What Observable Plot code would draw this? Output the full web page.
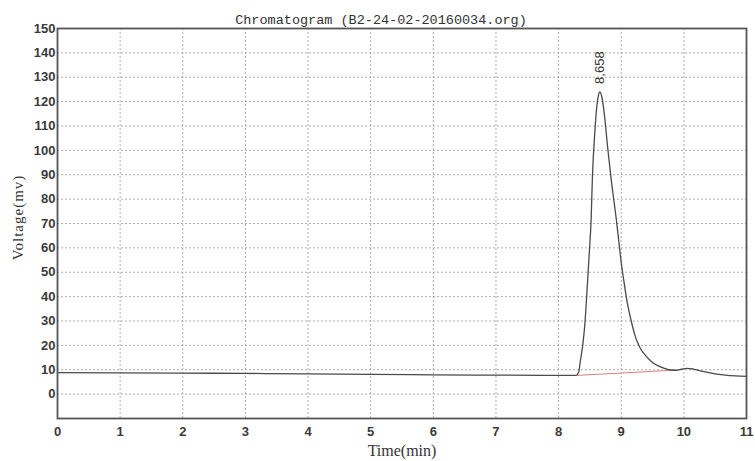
<!DOCTYPE html>
<html>
<head>
<meta charset="utf-8">
<script src="https://cdn.jsdelivr.net/npm/d3@7"></script>
<script src="https://cdn.jsdelivr.net/npm/@observablehq/plot@0.6"></script>
<style>
  html, body { margin: 0; padding: 0; background: #fff; }
</style>
</head>
<body>
<div id="chart"></div>
<script>
const titleText = "Chromatogram (B2-24-02-20160034.org)";
const xLabel = "Time(min)";
const yLabel = "Voltage(mv)";
const xTicks = [0,1,2,3,4,5,6,7,8,9,10,11];
const yTicks = [0,10,20,30,40,50,60,70,80,90,100,110,120,130,140,150];

const times = [0,1,2,3,4,5,6,7,8,8.28,8.32,8.35,8.39,8.42,8.46,8.49,8.52,8.54,8.58,8.61,8.64,8.658,8.69,8.72,8.75,8.78,8.81,8.84,8.88,8.92,8.96,9.00,9.05,9.10,9.16,9.22,9.30,9.40,9.50,9.60,9.70,9.80,9.88,9.96,10.05,10.15,10.3,10.5,10.7,10.9,11];
const volts = [8.8,8.7,8.6,8.5,8.3,8.1,7.9,7.8,7.7,7.7,9,14,21,29,45,58,72,89,108,118,123,124,122,117,110,102,95,88,80,72,63,54,45,37,30,24,19,15.5,13,11.5,10.5,9.9,9.8,10.2,10.6,10.3,9.3,8.3,7.7,7.4,7.3];

const baseTimes = [8.3, 9.84];
const baseVolts = [7.7, 9.8];

const peakTime = 8.658;
const peakVolt = 124;
const peakLabel = "8,658";

const data = times.map((t, i) => ({t, v: volts[i]}));
const base = baseTimes.map((t, i) => ({t, v: baseVolts[i]}));

const chart = Plot.plot({
  width: 755,
  height: 461,
  marginLeft: 57,
  marginRight: 9,
  marginTop: 28,
  marginBottom: 43,
  x: {domain: [0, 11], label: null},
  y: {domain: [-10, 150], label: null},
  style: {fontFamily: "Liberation Sans, Arial, sans-serif", background: "#fff"},
  marks: [
    Plot.gridX(xTicks, {stroke: "#999", strokeOpacity: 0.8, strokeDasharray: "2,2"}),
    Plot.gridY(yTicks, {stroke: "#999", strokeOpacity: 0.8, strokeDasharray: "2,2"}),
    Plot.axisX(xTicks, {tickSize: 0, tickPadding: 8, fontSize: 13, fontWeight: "bold", fill: "#3a3a3a", label: null}),
    Plot.axisY(yTicks, {tickSize: 0, tickPadding: 2, fontSize: 13, fontWeight: "bold", fill: "#3a3a3a", label: null}),
    Plot.line(base, {x: "t", y: "v", stroke: "#d98080", strokeWidth: 1}),
    Plot.line(data, {x: "t", y: "v", stroke: "#4a4a4a", strokeWidth: 1.3, curve: "monotone-x"}),
    Plot.text([peakLabel], {x: () => peakTime, y: () => peakVolt, text: d => d, rotate: -90, textAnchor: "start", dy: -8, fontSize: 13, fill: "#333", fontFamily: "Liberation Sans, Arial, sans-serif"}),
    Plot.frame({stroke: "#555", strokeWidth: 1.8}),
    Plot.text([titleText], {frameAnchor: "top", lineAnchor: "bottom", dy: -5, dx: -21, fontSize: 13.5, fill: "#333", fontFamily: "Liberation Mono, DejaVu Sans Mono, monospace", text: d => d}),
    Plot.text([xLabel], {frameAnchor: "bottom", lineAnchor: "middle", dy: 32, fontSize: 16, fill: "#333", fontFamily: "Liberation Serif, Times New Roman, serif", text: d => d}),
    Plot.text([yLabel], {frameAnchor: "left", textAnchor: "middle", lineAnchor: "middle", dx: -39, dy: -6, rotate: -90, fontSize: 15, fill: "#333", fontFamily: "Liberation Serif, Times New Roman, serif", text: d => d, className: "ylab"})
  ]
});
d3.select(chart).selectAll(".ylab text").attr("letter-spacing", "1px");
document.getElementById("chart").appendChild(chart);
</script>
</body>
</html>
